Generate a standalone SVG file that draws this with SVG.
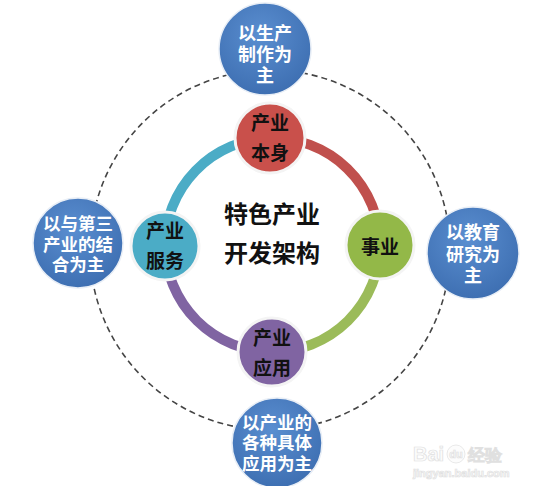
<svg xmlns="http://www.w3.org/2000/svg" width="537" height="486" viewBox="0 0 537 486">
<defs>
<radialGradient id="gb" cx="0.45" cy="0.35" r="0.7">
<stop offset="0" stop-color="#5A8ED0"/>
<stop offset="1" stop-color="#3C6DB0"/>
</radialGradient>
<style>
.outer{fill:url(#gb);stroke:#E8EEF6;stroke-width:1.5}
.ot{font-family:"Liberation Sans","Noto Sans CJK SC",sans-serif;font-weight:bold;font-size:18px;fill:#fff;text-anchor:middle}
.o4{font-size:17.5px}
.it{font-family:"Liberation Sans","Noto Sans CJK SC",sans-serif;font-weight:bold;font-size:19px;fill:#111;text-anchor:middle}
.ct{font-family:"Liberation Sans","Noto Sans CJK SC",sans-serif;font-weight:bold;font-size:24px;fill:#111;text-anchor:middle}
.inner{stroke:#F4F4F4;stroke-width:3}
.arc{fill:none;stroke-width:10}
.wm{font-family:"Liberation Sans",Arial,sans-serif;font-weight:bold;fill:#fcfcfc;stroke:#e0e0e0;stroke-width:0.7}
</style>
</defs>
<rect width="537" height="486" fill="#fff"/>
<g id="connectors">
<circle cx="270" cy="250" r="180" fill="none" stroke="#444" stroke-width="1.6" stroke-dasharray="6,4"/>
<path class="arc" stroke="#4BACC6" d="M165 246 A108 108 0 0 1 270 138"/>
<path class="arc" stroke="#C0504D" d="M270 138 A108 108 0 0 1 380 245"/>
<path class="arc" stroke="#9BBB59" d="M380 245 A108 108 0 0 1 272 352"/>
<path class="arc" stroke="#8064A2" d="M272 352 A108 108 0 0 1 165 246"/>
</g>
<g id="top">
<circle class="outer" cx="265" cy="49" r="46"/>
<text class="ot" x="265" y="40">以生产</text>
<text class="ot" x="265" y="61">制作为</text>
<text class="ot" x="265" y="82">主</text>
</g>
<g id="left">
<circle class="outer" cx="78" cy="243" r="45"/>
<text class="ot o4" x="78" y="230">以与第三</text>
<text class="ot o4" x="78" y="251">产业的结</text>
<text class="ot o4" x="78" y="271">合为主</text>
</g>
<g id="right">
<circle class="outer" cx="473" cy="253" r="46"/>
<text class="ot" x="473" y="239">以教育</text>
<text class="ot" x="473" y="261">研究为</text>
<text class="ot" x="473" y="282">主</text>
</g>
<g id="bottom">
<circle class="outer" cx="277" cy="443" r="45"/>
<text class="ot o4" x="277" y="429">以产业的</text>
<text class="ot o4" x="277" y="449">各种具体</text>
<text class="ot o4" x="277" y="470">应用为主</text>
</g>
<g id="center">
<text class="ct" x="272" y="223">特色产业</text>
<text class="ct" x="272" y="262">开发架构</text>
</g>
<g id="n-benshen">
<circle class="inner" cx="270" cy="138" r="35" fill="#C9504B"/>
<text class="it" x="270" y="130">产业</text>
<text class="it" x="270" y="160">本身</text>
</g>
<g id="n-shiye">
<circle class="inner" cx="380" cy="245" r="34" fill="#93B848"/>
<text class="it" x="380" y="254">事业</text>
</g>
<g id="n-fuwu">
<circle class="inner" cx="165" cy="246" r="34" fill="#4BACC6"/>
<text class="it" x="165" y="238">产业</text>
<text class="it" x="165" y="268">服务</text>
</g>
<g id="n-yingyong">
<circle class="inner" cx="272" cy="352" r="34" fill="#8064A2"/>
<text class="it" x="272" y="345">产业</text>
<text class="it" x="272" y="375">应用</text>
</g>
<g id="watermark">
<text class="wm" x="413" y="461" font-size="20">Bai</text>
<circle cx="456" cy="454" r="9" fill="#fcfcfc" stroke="#e0e0e0" stroke-width="0.7"/>
<text class="wm" x="456" y="458" font-size="11" text-anchor="middle">du</text>
<text class="wm" x="468" y="461" font-size="17" font-family="Noto Sans CJK SC,sans-serif">经验</text>
<text class="wm" x="413" y="477" font-size="11" font-weight="normal">jingyan.baidu.com</text>
</g>
</svg>
